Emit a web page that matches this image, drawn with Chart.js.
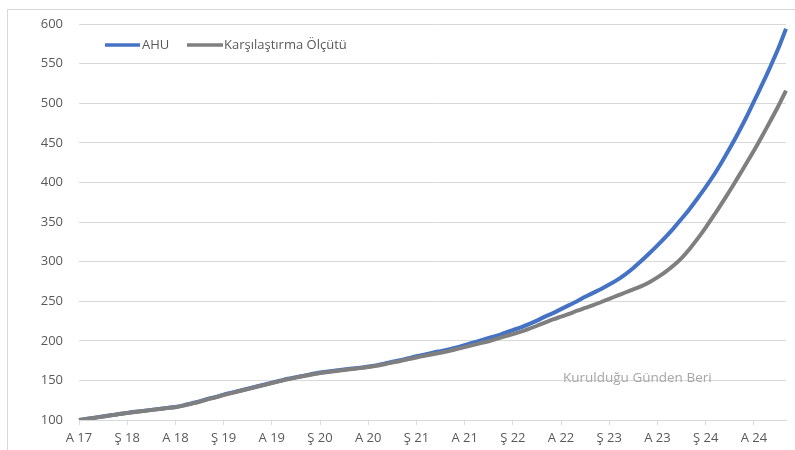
<!DOCTYPE html>
<html lang="tr">
<head>
<meta charset="utf-8">
<script src="https://cdn.jsdelivr.net/npm/chart.js@4.4.1/dist/chart.umd.min.js"></script>
<style>
    body { margin: 0; background: #fff; overflow: hidden; }
    #cerceve { position: absolute; left: 7px; top: 9px; width: 900px; height: 600px; border: 1px solid #d9d9d9; }
    #kap { position: absolute; left: 0; top: 0; width: 795px; height: 450px; }
</style>
</head>
<body>
<div id="cerceve"></div>
<div id="kap"><canvas id="grafik" width="795" height="450"></canvas></div>
<script>
//DATOS
const tickLabels = ["A 17", "Ş 18", "A 18", "Ş 19", "A 19", "Ş 20", "A 20", "Ş 21", "A 21", "Ş 22", "A 22", "Ş 23", "A 23", "Ş 24", "A 24"]

const ahu = [
    100, 101.5, 103, 104.5, 106, 107.5, 109, 110.3, 111.5, 112.8, 114, 115.3,
    116.5, 118.5, 121, 123.5, 126.5, 129, 132, 134.5, 137, 139.5, 142, 144.5,
    147, 149.5, 152, 154, 156, 158, 160, 161.3, 162.5, 163.8, 165, 166,
    167.5, 169, 171, 173.5, 175.5, 178, 180.5, 182.5, 185, 187, 189, 191.5,
    194.5, 197.5, 200.5, 203.5, 206.5, 210, 213.5, 217, 221, 225.5, 230.5, 235,
    240, 245, 250, 255.5, 260.5, 265.5, 271, 277, 284, 292, 301, 310.5,
    320.5, 331, 342, 354, 366.5, 380, 394, 409, 425.5, 443, 461.5, 481,
    502, 523, 545, 568, 594
]

const karsilastirma = [
    100, 101.4, 102.9, 104.4, 105.9, 107.4, 108.9, 110.1, 111.3, 112.6, 113.8, 115,
    116.2, 118.2, 120.6, 123.1, 126, 128.6, 131.5, 134, 136.6, 139, 141.6, 144.1,
    146.6, 149.1, 151.5, 153.5, 155.5, 157.4, 159.3, 160.7, 162, 163.2, 164.4, 165.5,
    166.8, 168.5, 170.5, 172.5, 174.5, 177, 179, 181, 183, 185, 187, 189.5,
    192, 194.5, 197, 199.5, 202.5, 205.5, 208.5, 211.5, 215, 219, 223, 227,
    230.5, 234, 238, 241.5, 245, 249, 253, 257, 261, 265, 269, 274,
    280, 287, 295, 304.5, 316, 329, 343, 358, 373.5, 389.5, 406, 423,
    440, 458, 476.5, 495.5, 516
]

const nombres = ["AHU", "Karşılaştırma Ölçütü"]
const colores = ["#4472c4", "#7f7f7f"]
const marca = "Kurulduğu Günden Beri"

//CATEGORIAS MENSUALES (una por mes)
const meses = ahu.map((v, i) => i)

const fuente = "'Open Sans', 'Liberation Sans', sans-serif"

//LEYENDA Y TEXTO DENTRO DEL GRAFICO
const leyendaPlugin = {
    id: "leyendaPropia",
    afterDraw(chart) {
        const ctx = chart.ctx
        ctx.save()
        ctx.lineWidth = 3.5
        ctx.lineCap = "butt"
        const items = [
            { x1: 105, x2: 140, tx: 142 },
            { x1: 187, x2: 223, tx: 224 }
        ]
        items.forEach((it, i) => {
            ctx.strokeStyle = colores[i]
            ctx.beginPath()
            ctx.moveTo(it.x1, 45)
            ctx.lineTo(it.x2, 45)
            ctx.stroke()
            ctx.fillStyle = "#595959"
            ctx.font = "13px " + fuente
            ctx.textBaseline = "middle"
            ctx.textAlign = "left"
            ctx.fillText(nombres[i], it.tx, 45)
        })
        ctx.fillStyle = "#a6a6a6"
        ctx.font = "13.5px " + fuente
        ctx.textAlign = "left"
        ctx.fillText(marca, 563, 378)
        ctx.restore()
    }
}

function renderGrafica() {
    const config = {
        type: "line",
        data: {
            labels: meses,
            datasets: [
                {
                    label: nombres[0],
                    data: ahu,
                    borderColor: colores[0],
                    borderWidth: 4,
                    pointRadius: 0,
                    tension: 0.3,
                    order: 1
                },
                {
                    label: nombres[1],
                    data: karsilastirma,
                    borderColor: colores[1],
                    borderWidth: 4,
                    pointRadius: 0,
                    tension: 0.3,
                    order: 0
                }
            ]
        },
        options: {
            responsive: false,
            animation: false,
            layout: { padding: { top: 24, right: 9, bottom: 0, left: 0 } },
            plugins: {
                legend: { display: false },
                tooltip: { enabled: false }
            },
            scales: {
                x: {
                    afterFit: (s) => { s.height = 30 },
                    grid: {
                        drawOnChartArea: false,
                        drawTicks: true,
                        tickLength: 5,
                        color: (c) => (c.index % 6 === 0 ? "#d9d9d9" : "rgba(0,0,0,0)")
                    },
                    border: { display: true, color: "#d9d9d9" },
                    ticks: {
                        autoSkip: false,
                        maxRotation: 0,
                        padding: 5,
                        color: "#595959",
                        font: { family: fuente, size: 13 },
                        callback: (val, index) => (index % 6 === 0 ? tickLabels[index / 6] : "")
                    }
                },
                y: {
                    min: 100,
                    max: 600,
                    afterFit: (s) => { s.width = 79 },
                    grid: { color: "#d9d9d9", drawTicks: false },
                    border: { display: false },
                    ticks: {
                        stepSize: 50,
                        padding: 16,
                        color: "#595959",
                        font: { family: fuente, size: 13 }
                    }
                }
            }
        },
        plugins: [leyendaPlugin]
    }
    new Chart(document.getElementById("grafik"), config)
}

renderGrafica()
</script>
</body>
</html>
